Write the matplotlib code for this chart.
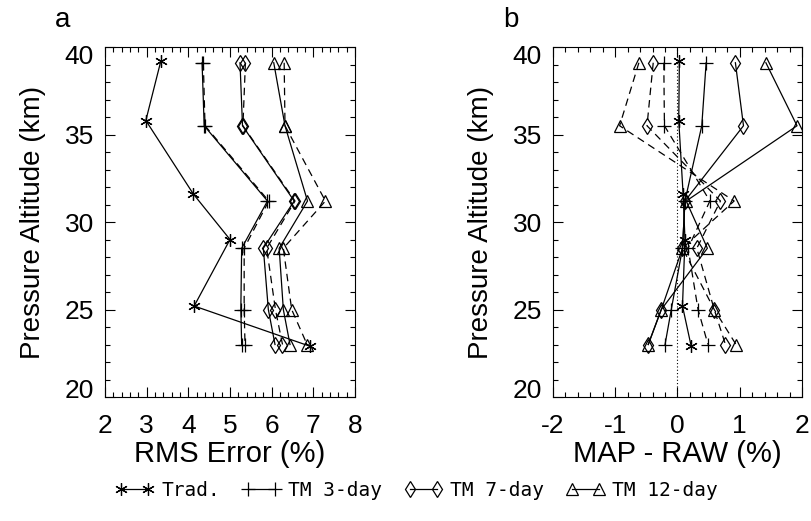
import matplotlib
matplotlib.use("Agg")
import matplotlib.pyplot as plt
from matplotlib.ticker import MultipleLocator
from matplotlib.transforms import ScaledTranslation

plt.rcParams['font.family'] = ['Liberation Sans', 'DejaVu Sans']
plt.rcParams['axes.unicode_minus'] = False

# altitude levels (km)
trad_alt = [39.2, 35.8, 31.6, 29.0, 25.2, 22.9]
tm_alt = [39.1, 35.5, 31.2, 28.5, 25.0, 23.0]

# panel a: RMS error (%)
rms_trad = [3.34, 2.98, 4.12, 5.00, 4.14, 6.92]
rms_3day = [4.33, 4.38, 5.90, 5.28, 5.26, 5.28]
rms_3day_d = [4.36, 4.40, 5.93, 5.34, 5.34, 5.36]
rms_7day = [5.24, 5.30, 6.54, 5.80, 5.92, 6.08]
rms_7day_d = [5.37, 5.31, 6.56, 5.88, 6.09, 6.26]
rms_12day = [6.05, 6.32, 6.86, 6.18, 6.28, 6.44]
rms_12day_d = [6.30, 6.32, 7.29, 6.28, 6.48, 6.85]

# panel b: MAP - RAW (%)
diff_trad = [0.03, 0.02, 0.09, 0.12, 0.08, 0.22]
diff_3day = [0.46, 0.39, 0.12, 0.08, -0.10, -0.20]
diff_3day_d = [-0.22, -0.21, 0.52, 0.17, 0.33, 0.49]
diff_7day = [0.93, 1.06, 0.12, 0.08, -0.26, -0.47]
diff_7day_d = [-0.39, -0.49, 0.69, 0.31, 0.59, 0.77]
diff_12day = [1.42, 1.92, 0.14, 0.48, -0.26, -0.47]
diff_12day_d = [-0.62, -0.93, 0.91, 0.08, 0.59, 0.94]

labels = ['Trad.', 'TM 3-day', 'TM 7-day', 'TM 12-day']
star = (6, 2, 0)
mk = dict(color='black', lw=0.9, mfc='none', mec='black', mew=0.9)
dash = (0, (6, 4))

fig = plt.figure(figsize=(8.12, 5.21), dpi=100)
ax_a = fig.add_axes([105 / 812, 1 - 397 / 521, 250 / 812, 350 / 521])
ax_b = fig.add_axes([553 / 812, 1 - 397 / 521, 249 / 812, 350 / 521])


def draw(ax, trad, s3, s3d, s7, s7d, s12, s12d):
    h = []
    h += ax.plot(trad, trad_alt, marker=star, ms=9, **mk)
    h += ax.plot(s3, tm_alt, marker='+', ms=10, **mk)
    ax.plot(s3d, tm_alt, marker='+', ms=10, ls=dash, **mk)
    h += ax.plot(s7, tm_alt, marker='d', ms=8, **mk)
    ax.plot(s7d, tm_alt, marker='d', ms=8, ls=dash, **mk)
    h += ax.plot(s12, tm_alt, marker='^', ms=8, **mk)
    ax.plot(s12d, tm_alt, marker='^', ms=8, ls=dash, **mk)
    return h


handles = draw(ax_a, rms_trad, rms_3day, rms_3day_d, rms_7day, rms_7day_d,
               rms_12day, rms_12day_d)
draw(ax_b, diff_trad, diff_3day, diff_3day_d, diff_7day, diff_7day_d,
     diff_12day, diff_12day_d)
ax_b.axvline(0, color='black', lw=0.8, ls=(0, (1, 2)))

ax_a.set_xlim(2, 8)
ax_b.set_xlim(-2, 2)
ax_a.set_xlabel('RMS Error (%)', fontsize=21, labelpad=2)
ax_b.set_xlabel('MAP - RAW (%)', fontsize=21, labelpad=2)

for ax, letter in ((ax_a, 'a'), (ax_b, 'b')):
    ax.set_ylim(20, 40)
    ax.xaxis.set_major_locator(MultipleLocator(1))
    ax.xaxis.set_minor_locator(MultipleLocator(0.2))
    ax.set_yticks([20, 25, 30, 35, 40])
    ax.yaxis.set_minor_locator(MultipleLocator(1))
    ax.tick_params(which='both', direction='in', top=True, right=True,
                   labelsize=19, width=0.8)
    ax.tick_params(which='major', length=7)
    ax.tick_params(which='minor', length=3.5)
    ax.tick_params(axis='x', which='major', pad=12)
    ax.tick_params(axis='y', which='major', pad=8)
    ax.set_ylabel('Pressure Altitude (km)', fontsize=20, labelpad=13)
    for s in ax.spines.values():
        s.set_linewidth(0.8)
    ax.text(-0.2, 1.04, letter, transform=ax.transAxes, fontsize=20,
            ha='left', va='bottom')
    # end labels on the altitude axis sit just inside the axis range
    ylabs = ax.get_yticklabels()
    for lab, dy in ((ylabs[0], 9), (ylabs[-1], -8)):
        lab.set_transform(lab.get_transform()
                          + ScaledTranslation(0, dy / 100, fig.dpi_scale_trans))

fig.legend(handles, labels, loc='center', bbox_to_anchor=(0.513, 1 - 490 / 521),
           ncol=4, frameon=False, numpoints=2, handlelength=2.0,
           handletextpad=0.4, columnspacing=1.1,
           prop={'family': 'DejaVu Sans Mono', 'size': 14})

fig.savefig('out.png', dpi=100)
